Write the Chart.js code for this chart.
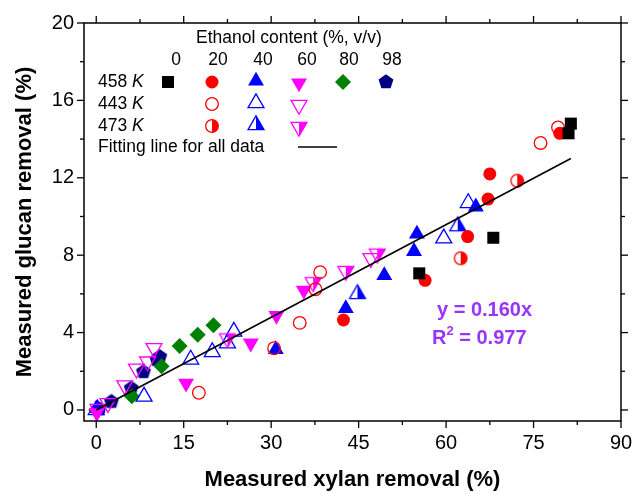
<!DOCTYPE html>
<html>
<head>
<meta charset="utf-8">
<script src="https://cdn.jsdelivr.net/npm/chart.js@4.4.0/dist/chart.umd.min.js"></script>
<style>
  html, body { margin: 0; padding: 0; background: #fff; }
</style>
</head>
<body>
<canvas id="chart" width="632" height="494"></canvas>
<script>
// tick labels
var xTicks = [0, 15, 30, 45, 60, 75, 90];
var xMinor = [7.5, 22.5, 37.5, 52.5, 67.5, 82.5];
var yTicks = [0, 4, 8, 12, 16, 20];
var yMinor = [2, 6, 10, 14, 18];

// 458 K
var x458_0 = [55.4, 68.1, 81.0, 81.4];
var y458_0 = [7.06, 8.9, 14.3, 14.8];
var x458_20 = [42.4, 56.4, 63.7, 67.2, 67.5, 79.5];
var y458_20 = [4.65, 6.7, 8.96, 10.9, 12.2, 14.3];
var x458_40 = [0.2, 30.8, 42.8, 49.4, 54.5, 55.0, 65.1];
var y458_40 = [0.1, 3.13, 5.25, 6.95, 8.2, 9.1, 10.5];
var x458_60 = [0.1, 15.4, 26.5, 30.9, 35.6];
var y458_60 = [-0.15, 1.38, 3.45, 4.88, 6.18];
var x458_80 = [0, 6.1, 11.2, 14.3, 17.4, 20.1];
var y458_80 = [0, 0.71, 2.26, 3.3, 3.89, 4.38];
var x458_98 = [0.5, 2.6, 6.0, 8.1, 10.4, 10.9];
var y458_98 = [0.05, 0.43, 1.12, 1.97, 2.6, 2.75];

// 443 K
var x443_20 = [17.6, 30.5, 34.9, 37.6, 38.4, 76.2, 79.2];
var y443_20 = [0.89, 3.19, 4.5, 6.24, 7.12, 13.8, 14.6];
var x443_40 = [0, 8.2, 16.2, 19.9, 22.5, 23.6, 59.6, 63.8];
var y443_40 = [0, 0.69, 2.61, 2.99, 3.45, 4.05, 8.87, 10.7];
var x443_60 = [0.3, 2.0, 4.9, 6.9, 8.8, 9.9, 47.1];
var y443_60 = [0.05, 0.35, 1.27, 2.13, 2.5, 3.19, 7.84];

// 473 K
var x473_20 = [62.5, 72.2];
var y473_20 = [7.84, 11.85];
var x473_40 = [44.8, 62.0];
var y473_40 = [6.0, 9.5];
var x473_60 = [22.5, 37.2, 42.8, 48.2];
var y473_60 = [3.7, 6.6, 7.18, 8.08];

// fitting line y = 0.160x for all data
var fitX = [0, 81.4];
var fitY = [0, 13.0];

var RED = '#ff0000', BLUE = '#0000ff', MAG = '#ff00ff', GREEN = '#008000', NAVY = '#000080';
var FONT = '"Liberation Sans", Arial, sans-serif';

function pts(xs, ys) {
    return xs.map(function (v, i) { return { x: v, y: ys[i] }; });
}

// small canvases for markers Chart.js has no style for (half filled, pentagon)
function markerCanvas(shape, color, mode) {
    var c = document.createElement('canvas');
    c.width = 22; c.height = 22;
    var g = c.getContext('2d');
    function path() {
        g.beginPath();
        if (shape === 'circle') {
            g.arc(11, 11, 6.3, 0, Math.PI * 2);
        } else {
            var n = shape === 'pentagon' ? 5 : 3;
            var r = shape === 'pentagon' ? 7.8 : 9.2;
            var start = shape === 'down' ? Math.PI / 2 : -Math.PI / 2;
            for (var i = 0; i < n; i++) {
                var t = start + i * 2 * Math.PI / n;
                var px = 11 + r * Math.cos(t), py = 11 + r * Math.sin(t);
                if (i) g.lineTo(px, py); else g.moveTo(px, py);
            }
            g.closePath();
        }
    }
    g.fillStyle = color;
    g.strokeStyle = color;
    g.lineWidth = 1.3;
    if (mode === 'full') {
        path(); g.fill();
    } else {
        g.save();
        g.beginPath(); g.rect(11, 0, 11, 22); g.clip();
        path(); g.fill();
        g.restore();
        path(); g.stroke();
    }
    return c;
}

var halfCircle = markerCanvas('circle', RED, 'half');
var halfUp = markerCanvas('up', BLUE, 'half');
var halfDown = markerCanvas('down', MAG, 'half');
var pentagon = markerCanvas('pentagon', NAVY, 'full');

// marker styles, shared by data and the legend block
var styles = {
    s458_0: { pointStyle: 'rect', radius: 8.5, rotation: 0, bg: '#000', border: '#000', bw: 0 },
    s458_20: { pointStyle: 'circle', radius: 6.5, rotation: 0, bg: RED, border: RED, bw: 0 },
    s458_40: { pointStyle: 'triangle', radius: 9.2, rotation: 0, bg: BLUE, border: BLUE, bw: 0 },
    s458_60: { pointStyle: 'triangle', radius: 9.2, rotation: 180, bg: MAG, border: MAG, bw: 0 },
    s458_80: { pointStyle: 'rectRot', radius: 8, rotation: 0, bg: GREEN, border: GREEN, bw: 0 },
    s458_98: { pointStyle: pentagon, radius: 8, rotation: 0, bg: NAVY, border: NAVY, bw: 0 },
    s443_20: { pointStyle: 'circle', radius: 6.3, rotation: 0, bg: 'rgba(0,0,0,0)', border: RED, bw: 1.3 },
    s443_40: { pointStyle: 'triangle', radius: 9.2, rotation: 0, bg: 'rgba(0,0,0,0)', border: BLUE, bw: 1.3 },
    s443_60: { pointStyle: 'triangle', radius: 9.2, rotation: 180, bg: 'rgba(0,0,0,0)', border: MAG, bw: 1.3 },
    s473_20: { pointStyle: halfCircle, radius: 7, rotation: 0, bg: RED, border: RED, bw: 0 },
    s473_40: { pointStyle: halfUp, radius: 9, rotation: 0, bg: BLUE, border: BLUE, bw: 0 },
    s473_60: { pointStyle: halfDown, radius: 9, rotation: 0, bg: MAG, border: MAG, bw: 0 }
};

function scatterSet(label, xs, ys, st) {
    return {
        type: 'scatter',
        label: label,
        data: pts(xs, ys),
        pointStyle: st.pointStyle,
        pointRadius: st.radius,
        pointHoverRadius: st.radius,
        pointRotation: st.rotation,
        pointBackgroundColor: st.bg,
        pointBorderColor: st.border,
        pointBorderWidth: st.bw
    };
}

function line(ctx, x1, y1, x2, y2) {
    ctx.beginPath(); ctx.moveTo(x1, y1); ctx.lineTo(x2, y2); ctx.stroke();
}

function marker(ctx, st, x, y) {
    ctx.save();
    ctx.fillStyle = st.bg;
    ctx.strokeStyle = st.border;
    ctx.lineWidth = st.bw;
    Chart.helpers.drawPoint(ctx, { pointStyle: st.pointStyle, radius: st.radius, rotation: st.rotation, borderWidth: st.bw }, x, y);
    ctx.restore();
}

// frame, mirrored ticks, in-plot legend and fit equation
var decorPlugin = {
    id: 'decor',
    afterDraw: function (chart) {
        var ctx = chart.ctx, a = chart.chartArea;
        var xs = chart.scales.x, ys = chart.scales.y;
        ctx.save();
        ctx.strokeStyle = '#000';
        ctx.lineWidth = 1.5;
        ctx.strokeRect(a.left, a.top, a.right - a.left, a.bottom - a.top);

        ctx.lineWidth = 1.3;
        xTicks.concat(xMinor).forEach(function (v) {
            var len = xTicks.indexOf(v) >= 0 ? 7 : 4;
            var px = xs.getPixelForValue(v);
            line(ctx, px, a.bottom, px, a.bottom + len);
            line(ctx, px, a.top, px, a.top - len);
        });
        yTicks.concat(yMinor).forEach(function (v) {
            var len = yTicks.indexOf(v) >= 0 ? 7 : 4;
            var py = ys.getPixelForValue(v);
            line(ctx, a.left, py, a.left - len, py);
            line(ctx, a.right, py, a.right + len, py);
        });

        // legend block
        var lf = '17.5px ' + FONT;
        ctx.fillStyle = '#000';
        ctx.textBaseline = 'middle';
        ctx.font = lf;
        ctx.textAlign = 'left';
        ctx.fillText('Ethanol content (%, v/v)', 196, 38);
        ctx.textAlign = 'center';
        [['0', 176], ['20', 218], ['40', 263], ['60', 307], ['80', 349], ['98', 392]].forEach(function (h) {
            ctx.fillText(h[0], h[1], 60);
        });
        ctx.textAlign = 'left';
        [['458', 82], ['443', 104], ['473', 126]].forEach(function (r) {
            ctx.font = lf;
            ctx.fillText(r[0] + ' ', 98, r[1]);
            var w = ctx.measureText(r[0] + ' ').width;
            ctx.font = 'italic ' + lf;
            ctx.fillText('K', 98 + w, r[1]);
        });
        ctx.font = lf;
        ctx.fillText('Fitting line for all data', 98, 147);
        ctx.lineWidth = 1.5;
        line(ctx, 298, 147, 337, 147);

        marker(ctx, styles.s458_0, 168, 82);
        marker(ctx, styles.s458_20, 212, 82);
        marker(ctx, styles.s458_40, 256, 81);
        marker(ctx, styles.s458_60, 299, 83);
        marker(ctx, styles.s458_80, 343, 82);
        marker(ctx, styles.s458_98, 386, 82);
        marker(ctx, styles.s443_20, 212, 104);
        marker(ctx, styles.s443_40, 256, 103);
        marker(ctx, styles.s443_60, 299, 105);
        marker(ctx, styles.s473_20, 212, 126);
        marker(ctx, styles.s473_40, 256, 125);
        marker(ctx, styles.s473_60, 299, 127);

        // fit equation
        ctx.fillStyle = '#9933ff';
        ctx.font = 'bold 20px ' + FONT;
        ctx.fillText('y = 0.160x', 437, 310);
        ctx.fillText('R', 432, 338);
        var rw = ctx.measureText('R').width;
        ctx.font = 'bold 13px ' + FONT;
        ctx.fillText('2', 432 + rw, 331);
        var sw = ctx.measureText('2').width;
        ctx.font = 'bold 20px ' + FONT;
        ctx.fillText(' = 0.977', 432 + rw + sw, 338);
        ctx.restore();
    }
};

var datasets = [
    {
        type: 'line',
        label: 'Fitting line for all data',
        data: pts(fitX, fitY),
        borderColor: '#000',
        borderWidth: 1.6,
        pointRadius: 0,
        fill: false
    },
    scatterSet('458 K, 0', x458_0, y458_0, styles.s458_0),
    scatterSet('458 K, 20', x458_20, y458_20, styles.s458_20),
    scatterSet('443 K, 20', x443_20, y443_20, styles.s443_20),
    scatterSet('473 K, 20', x473_20, y473_20, styles.s473_20),
    scatterSet('443 K, 60', x443_60, y443_60, styles.s443_60),
    scatterSet('473 K, 60', x473_60, y473_60, styles.s473_60),
    scatterSet('458 K, 60', x458_60, y458_60, styles.s458_60),
    scatterSet('443 K, 40', x443_40, y443_40, styles.s443_40),
    scatterSet('473 K, 40', x473_40, y473_40, styles.s473_40),
    scatterSet('458 K, 40', x458_40, y458_40, styles.s458_40),
    scatterSet('458 K, 80', x458_80, y458_80, styles.s458_80),
    scatterSet('458 K, 98', x458_98, y458_98, styles.s458_98)
];

var chart = new Chart(document.getElementById('chart'), {
    type: 'scatter',
    data: { datasets: datasets },
    options: {
        responsive: false,
        animation: false,
        devicePixelRatio: 1,
        layout: { padding: { left: 0, right: 11, top: 23, bottom: 0 } },
        plugins: {
            legend: { display: false },
            tooltip: { enabled: false }
        },
        scales: {
            x: {
                type: 'linear',
                min: -2.1,
                max: 90,
                afterBuildTicks: function (s) { s.ticks = xTicks.map(function (v) { return { value: v }; }); },
                afterFit: function (s) { s.height = 73; s.paddingLeft = 0; s.paddingRight = 0; },
                grid: { display: false, drawTicks: false },
                border: { display: false },
                ticks: { color: '#000', padding: 10, maxRotation: 0, font: { family: FONT, size: 20 } },
                title: {
                    display: true,
                    text: 'Measured xylan removal (%)',
                    color: '#000',
                    font: { family: FONT, size: 22, weight: 'bold' },
                    padding: { top: 0, bottom: 1 }
                }
            },
            y: {
                type: 'linear',
                min: -0.57,
                max: 20,
                afterBuildTicks: function (s) { s.ticks = yTicks.map(function (v) { return { value: v }; }); },
                afterFit: function (s) { s.width = 84; s.paddingTop = 0; s.paddingBottom = 0; },
                grid: { display: false, drawTicks: false },
                border: { display: false },
                ticks: { color: '#000', padding: 10, font: { family: FONT, size: 20 } },
                title: {
                    display: true,
                    text: 'Measured glucan removal (%)',
                    color: '#000',
                    font: { family: FONT, size: 22, weight: 'bold' },
                    padding: { top: 12, bottom: 0 }
                }
            }
        }
    },
    plugins: [decorPlugin]
});
</script>
</body>
</html>
